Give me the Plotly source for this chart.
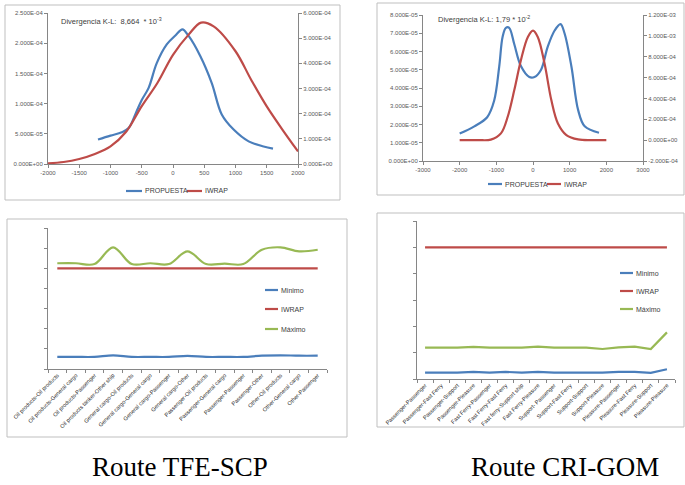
import plotly.graph_objects as go

W, H = 685, 485
def px(x): return x / W
def py(y): return 1 - y / H

# ---------------- data ----------------
# Panel 1 (Route TFE-SCP distribution)
p1_prop_x = [-1200, -1000, -820, -710, -600, -500, -390, -260, -100, 50, 150, 250, 440, 620, 780, 970, 1210, 1450, 1600]
p1_prop_y = [4.05e-5, 4.7e-5, 5.25e-5, 5.95e-5, 8.3e-5, 1.06e-4, 1.26e-4, 1.67e-4, 1.98e-4, 2.14e-4, 2.23e-4, 2.12e-4, 1.78e-4, 1.34e-4, 8.2e-5, 5.7e-5, 3.75e-5, 2.9e-5, 2.55e-5]
p1_iw_x = [-2000, -1750, -1500, -1250, -1000, -750, -500, -250, 0, 250, 450, 650, 1000, 1250, 1500, 1750, 2000]
p1_iw_y = [3e-6, 8e-6, 2e-5, 4e-5, 7e-5, 1.28e-4, 2.3e-4, 3.22e-4, 4.34e-4, 5.14e-4, 5.62e-4, 5.47e-4, 4.48e-4, 3.35e-4, 2.29e-4, 1.37e-4, 5.0e-5]

# Panel 2 (Route CRI-GOM distribution)
p2_prop_x = [-2000, -1600, -1250, -1060, -920, -830, -740, -650, -510, -330, -100, 40, 220, 400, 590, 750, 860, 1050, 1230, 1410, 1800]
p2_prop_y = [1.5e-5, 1.9e-5, 2.4e-5, 3.3e-5, 5.2e-5, 6.8e-5, 7.3e-5, 7.3e-5, 6.4e-5, 5.2e-5, 4.6e-5, 4.6e-5, 5.0e-5, 6.25e-5, 7.15e-5, 7.5e-5, 7.0e-5, 5.15e-5, 2.8e-5, 1.9e-5, 1.55e-5]
p2_iw_x = [-2000, -1500, -1150, -875, -690, -510, -330, -140, 0, 130, 315, 500, 680, 910, 1230, 1600, 2000]
p2_iw_y = [0, 0, 5e-6, 6.5e-5, 2.24e-4, 4.8e-4, 7.66e-4, 9.9e-4, 1.05e-3, 9.9e-4, 7.34e-4, 3.84e-4, 1.6e-4, 4.9e-5, 7e-6, 0, 0]

# Panel 3 (TFE-SCP encounter types)
p3_cats = ["Oil products-Oil products", "Oil products-General cargo", "Oil products-Passenger",
           "Oil products tanker-Other ship", "General cargo-Oil products", "General cargo-General cargo",
           "General cargo-Passenger", "General cargo-Other", "Passenger-Oil products",
           "Passenger-General cargo", "Passenger-Passenger", "Passenger-Other",
           "Other-Oil products", "Other-General cargo", "Other-Passenger"]
p3_min = [0.6, 0.6, 0.6, 0.68, 0.6, 0.6, 0.6, 0.65, 0.6, 0.6, 0.6, 0.66, 0.68, 0.66, 0.66]
p3_iwrap = [5, 5, 5, 5, 5, 5, 5, 5, 5, 5, 5, 5, 5, 5, 5]
p3_max = [5.25, 5.25, 5.21, 6.04, 5.21, 5.25, 5.21, 5.84, 5.21, 5.23, 5.21, 5.92, 6.04, 5.84, 5.92]

# Panel 4 (CRI-GOM encounter types)
p4_cats = ["Passenger-Passenger", "Passenger-Fast Ferry", "Passenger-Support", "Passenger-Pleasure",
           "Fast Ferry-Passenger", "Fast Ferry-Fast Ferry", "Fast ferry-Support ship", "Fast Ferry-Pleasure",
           "Support- Passenger", "Support-Fast Ferry", "Support-Support", "Support-Pleasure",
           "Pleasure-Passenger", "Pleasure-Fast Ferry", "Pleasure-Support", "Pleasure-Pleasure"]
p4_min = [0.24, 0.24, 0.24, 0.27, 0.24, 0.27, 0.24, 0.27, 0.24, 0.24, 0.24, 0.24, 0.27, 0.27, 0.23, 0.37]
p4_iwrap = [5, 5, 5, 5, 5, 5, 5, 5, 5, 5, 5, 5, 5, 5, 5, 5]
p4_max = [1.19, 1.19, 1.19, 1.22, 1.19, 1.19, 1.19, 1.23, 1.19, 1.19, 1.19, 1.14, 1.2, 1.23, 1.14, 1.77]

p1_xticks = [-2000, -1500, -1000, -500, 0, 500, 1000, 1500, 2000]
p1_yl_ticks = [0, 5e-5, 1e-4, 1.5e-4, 2e-4, 2.5e-4]
p1_yr_ticks = [0, 1e-4, 2e-4, 3e-4, 4e-4, 5e-4, 6e-4]
p2_xticks = [-3000, -2000, -1000, 0, 1000, 2000, 3000]
p2_yl_ticks = [0, 1e-5, 2e-5, 3e-5, 4e-5, 5e-5, 6e-5, 7e-5, 8e-5]
p2_yr_ticks = [-2e-4, 0, 2e-4, 4e-4, 6e-4, 8e-4, 1e-3, 1.2e-3]

BLUE = "#4A7EBB"
RED = "#BE4B48"
GREEN = "#98B954"
AX = "#868686"
TXT = "#404040"
FONT = "Liberation Sans"

fig = go.Figure()

def line(x, y, color, xa, ya, shape="spline"):
    ln = dict(color=color, width=2.2, shape=shape)
    if shape == "spline":
        ln["smoothing"] = 1
    fig.add_trace(go.Scatter(x=x, y=y, mode="lines", xaxis=xa, yaxis=ya, showlegend=False,
                             line=ln, hoverinfo="skip"))

line(p1_prop_x, p1_prop_y, BLUE, "x", "y")
line(p1_iw_x, p1_iw_y, RED, "x", "y2")
line(p2_prop_x, p2_prop_y, BLUE, "x2", "y3")
line(p2_iw_x, p2_iw_y, RED, "x2", "y4")
line(p3_cats, p3_min, BLUE, "x3", "y5")
line(p3_cats, p3_iwrap, RED, "x3", "y5")
line(p3_cats, p3_max, GREEN, "x3", "y5")
line(p4_cats, p4_min, BLUE, "x4", "y6", "linear")
line(p4_cats, p4_iwrap, RED, "x4", "y6", "linear")
line(p4_cats, p4_max, GREEN, "x4", "y6", "linear")

tickfont = dict(family=FONT, size=6, color="#595959")
base = dict(showgrid=False, zeroline=False, showline=True, linecolor=AX, linewidth=1,
            ticks="outside", ticklen=3, tickcolor=AX, tickfont=tickfont, automargin=False)

def sci(v):
    return "{:.3E}".format(v)

catfont = dict(family=FONT, size=5.6, color="#262626")

fig.update_layout(
    width=W, height=H, margin=dict(l=0, r=0, t=0, b=0, pad=0, autoexpand=False),
    paper_bgcolor="white", plot_bgcolor="rgba(0,0,0,0)", showlegend=False,
    xaxis=dict(base, domain=[px(48), px(298)], anchor="y", range=[-2000, 2000],
               tickvals=p1_xticks, ticktext=[str(v) for v in p1_xticks]),
    yaxis=dict(base, domain=[py(164), py(13)], anchor="x", range=[0, 2.5e-4],
               tickvals=p1_yl_ticks, ticktext=[sci(v) for v in p1_yl_ticks]),
    yaxis2=dict(base, overlaying="y", side="right", anchor="x", range=[0, 6e-4],
                tickvals=p1_yr_ticks, ticktext=[sci(v) for v in p1_yr_ticks]),
    xaxis2=dict(base, domain=[px(423), px(643)], anchor="y3", range=[-3000, 3000],
                tickvals=p2_xticks, ticktext=[str(v) for v in p2_xticks]),
    yaxis3=dict(base, domain=[py(161), py(15)], anchor="x2", range=[0, 8e-5],
                tickvals=p2_yl_ticks, ticktext=[sci(v) for v in p2_yl_ticks]),
    yaxis4=dict(base, overlaying="y3", side="right", anchor="x2", range=[-2e-4, 1.2e-3],
                tickvals=p2_yr_ticks, ticktext=[sci(v) for v in p2_yr_ticks]),
    xaxis3=dict(base, domain=[px(48), px(327)], anchor="y5", type="category",
                range=[-0.5, len(p3_cats) - 0.5], tickson="boundaries", tickangle=-45,
                tickfont=catfont),
    yaxis5=dict(base, domain=[py(369), py(228)], anchor="x3", range=[0, 7], dtick=1,
                showticklabels=False),
    xaxis4=dict(base, domain=[px(417), px(675)], anchor="y6", type="category",
                range=[-0.5, len(p4_cats) - 0.5], tickson="boundaries", tickangle=-45,
                tickfont=catfont),
    yaxis6=dict(base, domain=[py(379), py(221)], anchor="x4", range=[0, 6], dtick=1,
                showticklabels=False),
)

shapes = []
annots = []
def box(x0, y0, x1, y1):
    shapes.append(dict(type="rect", xref="paper", yref="paper", x0=px(x0), x1=px(x1),
                       y0=py(y1), y1=py(y0), line=dict(color="#BFBFBF", width=1)))
box(5, 5, 340, 200)
box(377, 3, 684, 195)
box(7, 219, 347, 437)
box(377, 213, 684, 427)

def leg(x0, x1, y, color, text):
    shapes.append(dict(type="line", xref="paper", yref="paper", x0=px(x0), x1=px(x1),
                       y0=py(y), y1=py(y), line=dict(color=color, width=2.2)))
    annots.append(dict(xref="paper", yref="paper", x=px(x1 + 1), y=py(y), text=text,
                       showarrow=False, xanchor="left", yanchor="middle",
                       font=dict(family=FONT, size=7, color=TXT)))

leg(126, 142, 191, BLUE, "PROPUESTA")
leg(187, 202, 191, RED, "IWRAP")
leg(488, 502, 184, BLUE, "PROPUESTA")
leg(547, 561, 184, RED, "IWRAP")
leg(265, 278, 290, BLUE, "Minimo")
leg(265, 278, 309, RED, "IWRAP")
leg(265, 278, 329, GREEN, "Máximo")
leg(620, 633, 273, BLUE, "Minimo")
leg(620, 633, 291, RED, "IWRAP")
leg(620, 633, 309, GREEN, "Máximo")

annots.append(dict(xref="paper", yref="paper", x=px(59), y=py(21), showarrow=False,
                   xanchor="left", yanchor="middle",
                   text="Divergencia K-L:  8,664  * 10<sup>-3</sup>",
                   font=dict(family=FONT, size=7.5, color=TXT)))
annots.append(dict(xref="paper", yref="paper", x=px(436), y=py(19), showarrow=False,
                   xanchor="left", yanchor="middle",
                   text="Divergencia K-L: 1,79 * 10<sup>-2</sup>",
                   font=dict(family=FONT, size=7.5, color=TXT)))
annots.append(dict(xref="paper", yref="paper", x=px(180), y=py(467), showarrow=False,
                   xanchor="center", yanchor="middle", text="Route TFE-SCP",
                   font=dict(family="Liberation Serif", size=27, color="black")))
annots.append(dict(xref="paper", yref="paper", x=px(565), y=py(467), showarrow=False,
                   xanchor="center", yanchor="middle", text="Route CRI-GOM",
                   font=dict(family="Liberation Serif", size=27, color="black")))

fig.update_layout(shapes=shapes, annotations=annots)
fig.write_html("out.html", config={"responsive": False, "displayModeBar": False},
               post_script="document.body.style.margin='0px';document.body.style.padding='0px';")
